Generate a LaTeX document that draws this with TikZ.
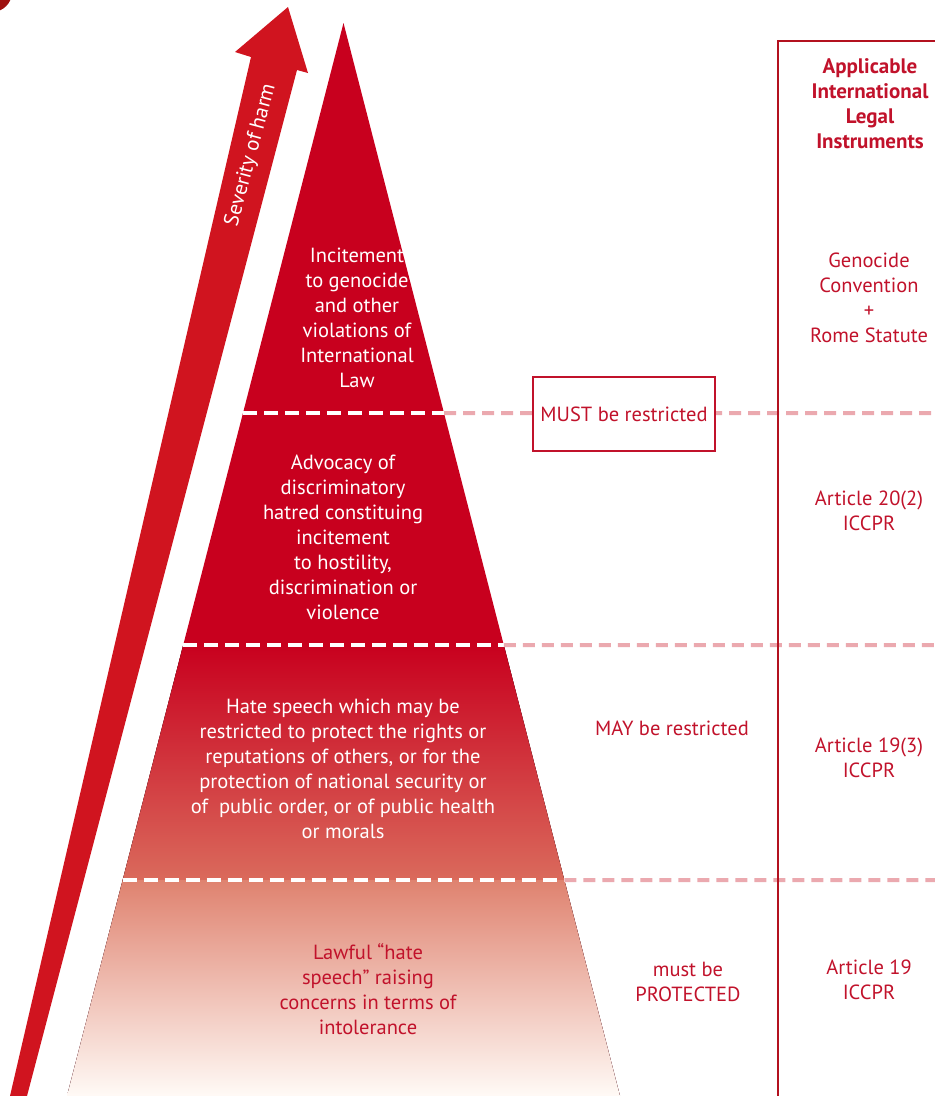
\documentclass[tikz,border=0pt]{standalone}
\usepackage{fontspec}
\setmainfont{PT Sans}
\usetikzlibrary{calc}
\definecolor{harmred}{HTML}{C8001E}
\definecolor{arrowred}{HTML}{D0141F}
\definecolor{salmon}{HTML}{DA6A5C}
\definecolor{peach}{HTML}{DF826F}
\definecolor{cream}{HTML}{FFFAF6}
\definecolor{textred}{HTML}{C1122B}
\definecolor{linered}{HTML}{B3111F}
\definecolor{dashpink}{HTML}{EBA9AF}
\definecolor{cornerred}{HTML}{9E110F}
\begin{document}
\begin{tikzpicture}[x=1pt,y=-1pt,
    every node/.style={align=center,font=\fontsize{20.5}{25}\selectfont,inner sep=0pt},
    inlabel/.style={text=white},
    outlabel/.style={text=textred},
    insep/.style={white,line width=4pt,dash pattern=on 14pt off 7pt},
    outsep/.style={dashpink,line width=4pt,dash pattern=on 12pt off 7pt}]
  \useasboundingbox (0,0) rectangle (935,1096);
  \fill[cornerred] (-8,-8) circle (20);

  % pyramid
  \coordinate (apex) at (343.5,23);
  \coordinate (baseL) at (67,1096);
  \coordinate (baseR) at (620,1096);
  \foreach \lvl/\y in {1/413,2/645,3/880}{
    \coordinate (left\lvl) at ($(apex)!{(\y-23)/1073}!(baseL)$);
    \coordinate (right\lvl) at ($(apex)!{(\y-23)/1073}!(baseR)$);
  }
  \fill[harmred] (apex) -- (baseL) -- (baseR) -- cycle;
  \fill[top color=harmred,bottom color=salmon] (left2) -- (left3) -- (right3) -- (right2) -- cycle;
  \fill[top color=peach,bottom color=cream] (left3) -- (baseL) -- (baseR) -- (right3) -- cycle;

  % severity arrow
  \fill[arrowred] (10,1096) -- (251,57) -- (235,52) -- (288,7) -- (308,73)
    -- (297,70) -- (27,1096) -- cycle;
  \begin{scope}[y=1pt]
    \node[inlabel,rotate=75,font=\fontsize{21}{25}\selectfont] (sev) at (251,-155) {Severity of harm};
  \end{scope}

  % levels
  \foreach \lvl/\y in {1/413,2/645,3/880}{
    \draw[insep] (left\lvl) -- (right\lvl);
    \draw[outsep] (right\lvl) -- (935,\y);
  }

  % instruments column
  \draw[linered,line width=2.5pt] (778,1100) -- (778,41) -- (940,41);

  \node[inlabel] (genocide) at (357,318) {Incitement\\to genocide\\and other\\violations of\\International\\Law};
  \node[inlabel] (advocacy) at (343,537) {Advocacy of\\discriminatory\\hatred constituing\\incitement\\to hostility,\\discrimination or\\violence};
  \node[inlabel] (hate) at (343,769) {Hate speech which may be\\restricted to protect the rights or\\reputations of others, or for the\\protection of national security or\\of~ public order, or of public health\\or morals};
  \node[outlabel] (lawful) at (368,989) {Lawful “hate\\speech” raising\\concerns in terms of\\intolerance};

  \node[outlabel,draw=textred,line width=1.2pt,fill=white,minimum width=182pt,minimum height=74pt] (must) at (624,414) {MUST be restricted};
  \node[outlabel] (may) at (672,728) {MAY be restricted};
  \node[outlabel] (protect) at (688,982) {must be\\PROTECTED};

  \node[outlabel,font=\fontsize{21}{25}\selectfont\bfseries] (head) at (870,104) {Applicable\\International\\Legal\\Instruments};
  \node[outlabel] (rome) at (869,298) {Genocide\\Convention\\+\\Rome Statute};
  \node[outlabel] (art20) at (869,511) {Article 20(2)\\ICCPR};
  \node[outlabel] (art193) at (869,758) {Article 19(3)\\ICCPR};
  \node[outlabel] (art19) at (869,980) {Article 19\\ICCPR};
\end{tikzpicture}
\end{document}
